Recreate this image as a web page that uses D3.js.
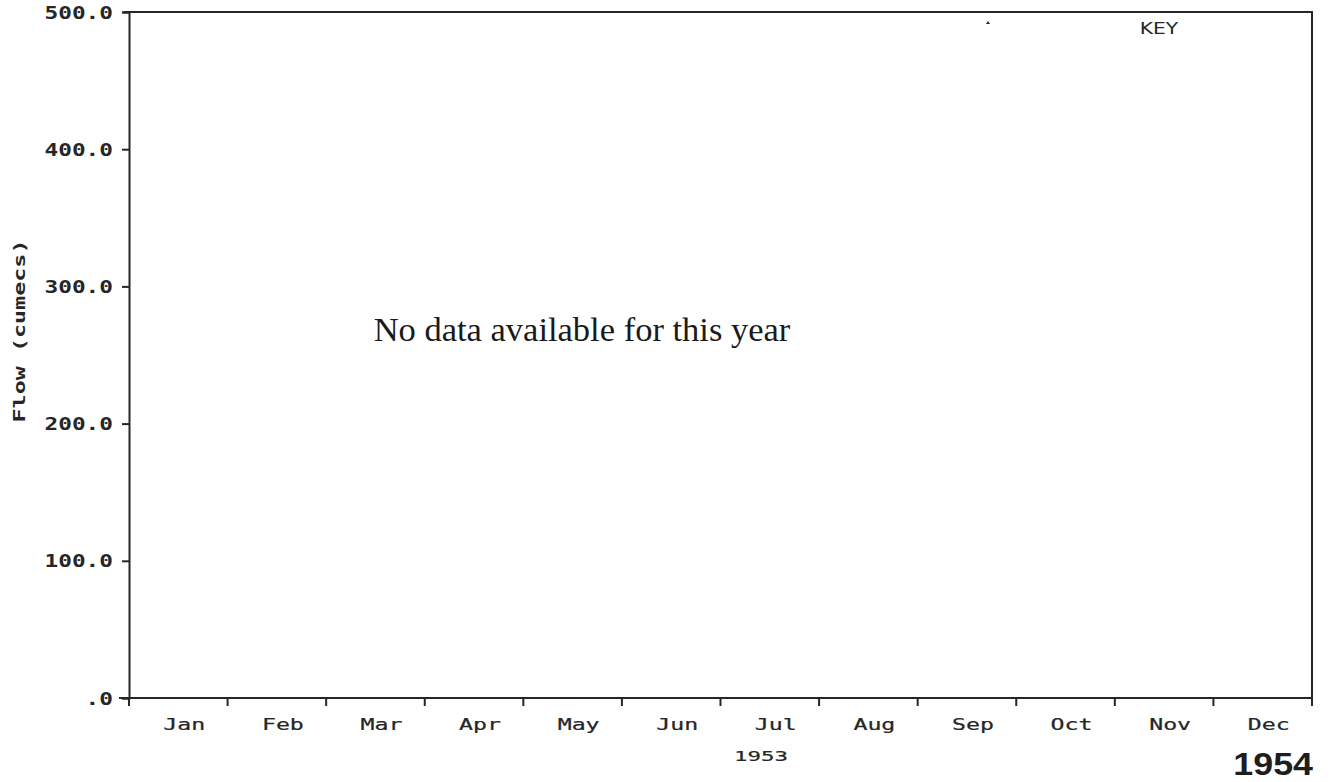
<!DOCTYPE html>
<html>
<head>
<meta charset="utf-8">
<script src="https://cdn.jsdelivr.net/npm/d3@7"></script>
<style>
  html, body { margin: 0; padding: 0; background: #fff; }
  svg { display: block; }
</style>
</head>
<body>
<svg id="chart" width="1330" height="782"></svg>
<script>
// Monthly flow chart for a year with no recorded data
const months = ["Jan", "Feb", "Mar", "Apr", "May", "Jun", "Jul", "Aug", "Sep", "Oct", "Nov", "Dec"];
const flowTicks = [0, 100, 200, 300, 400, 500];
const flowValues = []; // no observations for this year
const seriesYear = "1953";
const titleYear = "1954";
const yTitle = "Flow (cumecs)";
const keyLabel = "KEY";
const noDataMessage = "No data available for this year";

const svg = d3.select("#chart");
const ink = "#262626";
const mono = "'DejaVu Sans Mono', 'Liberation Mono', monospace";

const margin = { left: 129, right: 1312, top: 12, bottom: 698 };

const x = d3.scaleBand().domain(months).range([margin.left, margin.right]).padding(0);
const y = d3.scaleLinear().domain([0, 500]).range([margin.bottom, margin.top]);

// Wide plotter-style lettering: move the anchor into a transform and stretch horizontally
function widen(sel, sx, rotate) {
  sel.each(function () {
    const t = d3.select(this);
    const tx = +t.attr("x") || 0;
    const ty = +t.attr("y") || 0;
    t.attr("x", 0).attr("y", 0)
     .attr("transform", `translate(${tx},${ty})${rotate ? ` rotate(${rotate})` : ""} scale(${sx},1)`);
  });
}

// Frame: top and right edges
svg.append("path")
  .attr("d", `M${margin.left - 5},${y(500)}H${margin.right}V${y(0)}`)
  .attr("fill", "none").attr("stroke", ink).attr("stroke-width", 2);

// Y axis
const yAxis = d3.axisLeft(y)
  .tickValues(flowTicks)
  .tickSize(7)
  .tickPadding(9)
  .tickFormat(d => d === 0 ? ".0" : d.toFixed(1));

const gy = svg.append("g")
  .attr("transform", `translate(${margin.left},0)`)
  .call(yAxis);
gy.select(".domain").attr("stroke", ink).attr("stroke-width", 2);
gy.selectAll(".tick line").attr("stroke", ink).attr("stroke-width", 2);
gy.selectAll(".tick text")
  .attr("font-family", mono)
  .attr("font-weight", "bold")
  .attr("font-size", 17)
  .attr("dy", "0.36em")
  .attr("fill", ink)
  .call(widen, 1.34);

// X axis: month boundaries as ticks, month names centred in each band
const boundaries = months.map(m => x(m)).concat([x.range()[1]]);
const gx = svg.append("g");
gx.append("line")
  .attr("x1", margin.left - 10).attr("x2", margin.right)
  .attr("y1", y(0)).attr("y2", y(0))
  .attr("stroke", ink).attr("stroke-width", 2);
gx.selectAll("line.tick")
  .data(boundaries)
  .join("line")
  .attr("class", "tick")
  .attr("x1", d => d).attr("x2", d => d)
  .attr("y1", y(0)).attr("y2", y(0) + 8)
  .attr("stroke", ink).attr("stroke-width", 2);
gx.selectAll("text.month")
  .data(months)
  .join("text")
  .attr("class", "month")
  .attr("x", d => x(d) + x.bandwidth() / 2 + 6)
  .attr("y", y(0) + 32)
  .attr("text-anchor", "middle")
  .attr("font-family", mono)
  .attr("font-size", 15)
  .attr("stroke", ink).attr("stroke-width", 0.2)
  .attr("fill", ink)
  .text(d => d)
  .call(widen, 1.55);

// Flow series (empty for this year)
const line = d3.line().x(d => x(d.month) + x.bandwidth() / 2).y(d => y(d.flow));
svg.append("path")
  .datum(flowValues)
  .attr("d", flowValues.length ? line : null)
  .attr("fill", "none").attr("stroke", ink);

// Y axis title
svg.append("text")
  .attr("x", 25).attr("y", 331)
  .attr("text-anchor", "middle")
  .attr("font-family", mono)
  .attr("font-weight", "bold")
  .attr("font-size", 15)
  .attr("fill", ink)
  .text(yTitle)
  .call(widen, 1.56, -90);

// Year under the axis
svg.append("text")
  .attr("x", 761).attr("y", 761)
  .attr("text-anchor", "middle")
  .attr("font-family", mono)
  .attr("font-size", 14)
  .attr("stroke", ink).attr("stroke-width", 0.2)
  .attr("fill", ink)
  .text(seriesYear)
  .call(widen, 1.6);

// Large year label bottom right
svg.append("text")
  .attr("x", 1313).attr("y", 775)
  .attr("text-anchor", "end")
  .attr("font-family", "'Liberation Sans', Arial, sans-serif")
  .attr("font-weight", "bold")
  .attr("font-size", 32)
  .attr("fill", "#1e1e1e")
  .text(titleYear)
  .call(widen, 1.12);

// Key heading and marker
svg.append("text")
  .attr("x", 1159).attr("y", 34)
  .attr("text-anchor", "middle")
  .attr("font-family", "'DejaVu Sans', sans-serif")
  .attr("font-size", 15)
  .attr("fill", ink)
  .text(keyLabel)
  .call(widen, 1.35);
svg.append("path")
  .attr("d", "M986,24L988,21L990,24Z")
  .attr("fill", ink);

// Message in the plot area
svg.append("text")
  .attr("x", 582).attr("y", 341)
  .attr("text-anchor", "middle")
  .attr("font-family", "'Liberation Serif', 'Times New Roman', serif")
  .attr("font-size", 34.5)
  .attr("fill", "#1a1a1a")
  .text(noDataMessage);
</script>
</body>
</html>
